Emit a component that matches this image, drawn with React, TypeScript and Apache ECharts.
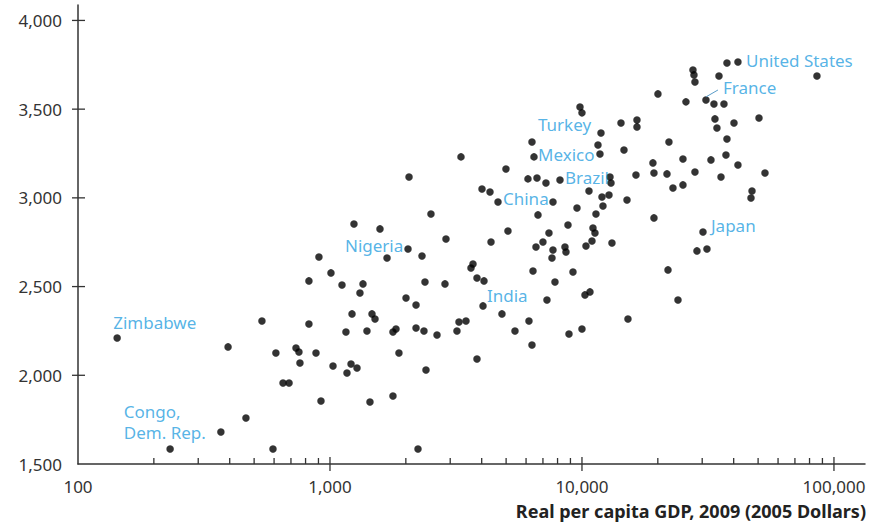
import React, { useEffect, useRef } from "react";
import * as echarts from "echarts";

// Real per capita GDP, 2009 (2005 dollars)
const gdpPerCapita = [
  143, 394, 537, 610, 733, 753, 760, 651, 688, 232,
  369, 464, 594, 825, 825, 880, 904, 921, 1009, 1028,
  1116, 1157, 1168, 1212, 1280, 1223, 1245, 1315, 1352, 1402,
  1441, 1468, 1509, 1579, 1684, 1778, 1828, 1778, 1878, 2003,
  2040, 2059, 2195, 2195, 2235, 2318, 2360, 2382, 2404, 2516,
  2659, 2860, 2886, 3191, 3250, 3310, 3465, 3627, 3694, 3831,
  3831, 4011, 4048, 4085, 4315, 4355, 4642, 4814, 4993, 5085,
  5422, 6105, 6161, 6333, 6333, 6392, 6450, 6569, 6629, 6690,
  7000, 7196, 7262, 7396, 7603, 7672, 7672, 7814, 8179, 8561,
  8640, 8800, 8881, 9211, 9555, 9820, 10000, 10000, 10278, 10758,
  10662, 10958, 10373, 11058, 11262, 11364, 11575, 11788, 11897, 12006,
  12800, 12115, 12919, 13038, 13152, 14283, 14680, 15090, 15223, 16379,
  16530, 16530, 19125, 19307, 19307, 20023, 21745, 21946, 22140, 22966,
  25165, 25165, 25861, 27573, 27826, 28082, 28082, 28599, 31333, 30213,
  24044, 31051, 32500, 33400, 33710, 34330, 34970, 35620, 36600, 37275,
  37620, 37620, 40110, 41590, 41590, 46850, 47290, 50410, 53240, 85610,
];

// Daily calorie supply per person
const calories = [
  2210, 2160, 2306, 2126, 2154, 2131, 2069, 1957, 1957, 1585,
  1680, 1759, 1585, 2532, 2289, 2126, 2667, 1855, 2577, 2052,
  2509, 2244, 2013, 2064, 2041, 2346, 2853, 2464, 2515, 2250,
  1849, 2346, 2317, 2825, 2661, 2244, 2261, 1883, 2126, 2436,
  2712, 3118, 2396, 2267, 1585, 2672, 2250, 2526, 2030, 2909,
  2227, 2515, 2768, 2250, 2300, 3231, 2306, 2605, 2627, 2548,
  2092, 3050, 2391, 2532, 3033, 2751, 2977, 2346, 3163, 2813,
  2250, 3107, 2306, 3315, 2171, 2588, 3231, 2723, 3112, 2904,
  2751, 3084, 2424, 2802, 2661, 2706, 2977, 2526, 3101, 2723,
  2695, 2847, 2233, 2582, 2943, 3512, 3479, 2261, 2453, 2470,
  3039, 2757, 2729, 2830, 2802, 2909, 3298, 3247, 3366, 3005,
  3016, 2954, 3118, 3084, 2746, 3422, 3270, 2988, 2317, 3129,
  3439, 3400, 3197, 3140, 2887, 3586, 3135, 2594, 3315, 3056,
  3073, 3219, 3541, 3721, 3693, 3653, 3146, 2701, 2712, 2808,
  2424, 3552, 3214, 3529, 3445, 3394, 3687, 3118, 3529, 3242,
  3332, 3760, 3422, 3766, 3185, 2999, 3039, 3450, 3140, 3687,
];

// Country labels (anchor = left edge / vertical middle of the text, in data units)
const labelNames = [
  "Zimbabwe", "Congo,\nDem. Rep.", "Nigeria", "China", "India", "Brazil",
  "Mexico", "Turkey", "France", "United States", "Japan",
];
const labelX = [138, 152, 1147, 4859, 4198, 8561, 6690, 6690, 36270, 44750, 32500];
const labelY = [2295, 1737, 2729, 2999, 2447, 3112, 3247, 3411, 3620, 3772, 2842];

// France leader line
const leaderX = [31051, 34650];
const leaderY = [3569, 3608];

// Axis ticks
const xMajorTicks = [1000, 10000, 100000];
const xMinorTicks = [
  200, 300, 400, 500, 600, 700, 800, 900,
  2000, 3000, 4000, 5000, 6000, 7000, 8000, 9000,
  20000, 30000, 40000, 50000, 60000, 70000, 80000, 90000,
];
const yTicks = [2000, 2500, 3000, 3500, 4000];

const X_MIN = 100;
const X_MAX = 132800;
const Y_MIN = 1500;
const Y_MAX = 4087;

const FONT = "'Noto Sans', 'Open Sans', sans-serif";
const AXIS_COLOR = "#333";
const LABEL_BLUE = "#2b9fe0";

export default function App() {
  const ref = useRef<HTMLDivElement>(null);

  useEffect(() => {
    if (!ref.current) return;
    const chart = echarts.init(ref.current, undefined, { renderer: "svg" });

    const points = gdpPerCapita.map((g, i) => [g, calories[i]]);
    const labels = labelNames.map((n, i) => ({ name: n, value: [labelX[i], labelY[i]] }));
    const tickData: number[][] = [
      ...xMajorTicks.map((v) => [v, Y_MIN, 0]),
      ...xMinorTicks.map((v) => [v, Y_MIN, 1]),
      ...yTicks.map((v) => [X_MIN, v, 2]),
    ];

    chart.setOption({
      animation: false,
      textStyle: { fontFamily: FONT },
      grid: { left: 78, right: 10, top: 5, bottom: 61 },
      title: {
        text: "Real per capita GDP, 2009 (2005 Dollars)",
        right: 4,
        top: 497,
        textStyle: { fontFamily: FONT, fontSize: 18, fontWeight: "bold", color: "#222" },
      },
      xAxis: {
        type: "log",
        logBase: 10,
        min: X_MIN,
        max: X_MAX,
        axisLine: { lineStyle: { color: AXIS_COLOR, width: 1.5 } },
        axisTick: { show: false },
        minorTick: { show: false },
        splitLine: { show: false },
        axisLabel: {
          margin: 14,
          fontSize: 17,
          color: "#333",
          fontFamily: FONT,
          formatter: (v: number) => {
            const l = Math.log10(v);
            return Math.abs(l - Math.round(l)) < 1e-6
              ? Math.round(v).toLocaleString("en-US")
              : "";
          },
        },
      },
      yAxis: {
        type: "value",
        min: Y_MIN,
        max: Y_MAX,
        interval: 500,
        axisLine: { show: true, lineStyle: { color: AXIS_COLOR, width: 1.5 } },
        axisTick: { show: false },
        splitLine: { show: false },
        axisLabel: {
          margin: 16,
          fontSize: 17,
          color: "#333",
          fontFamily: FONT,
          formatter: (v: number) =>
            Math.abs(v % 500) < 1e-6 ? Math.round(v).toLocaleString("en-US") : "",
        },
      },
      series: [
        {
          type: "custom",
          silent: true,
          clip: false,
          data: tickData,
          renderItem: (params: any, api: any) => {
            const kind = api.value(2);
            const p = api.coord([api.value(0), api.value(1)]);
            let shape;
            if (kind === 0) shape = { x1: p[0], y1: p[1] - 7, x2: p[0], y2: p[1] + 7 };
            else if (kind === 1) shape = { x1: p[0], y1: p[1] - 6, x2: p[0], y2: p[1] };
            else shape = { x1: p[0] - 6, y1: p[1], x2: p[0] + 7, y2: p[1] };
            return {
              type: "line",
              shape,
              style: { stroke: AXIS_COLOR, lineWidth: 1.3 },
            };
          },
        },
        {
          type: "scatter",
          silent: true,
          data: points,
          symbol: "circle",
          symbolSize: 7.5,
          itemStyle: { color: "#000" },
        },
        {
          type: "line",
          silent: true,
          data: leaderX.map((x, i) => [x, leaderY[i]]),
          symbol: "none",
          lineStyle: { color: "#5a9cc8", width: 1 },
        },
        {
          type: "scatter",
          silent: true,
          data: labels,
          symbolSize: 0,
          label: {
            show: true,
            formatter: "{b}",
            position: [0, 0],
            align: "left",
            verticalAlign: "middle",
            color: LABEL_BLUE,
            fontSize: 17,
            lineHeight: 21,
            fontFamily: FONT,
          },
        },
      ],
    });

    return () => chart.dispose();
  }, []);

  return (
    <div
      ref={ref}
      style={{ position: "absolute", left: 0, top: 0, width: 875, height: 525 }}
    />
  );
}
